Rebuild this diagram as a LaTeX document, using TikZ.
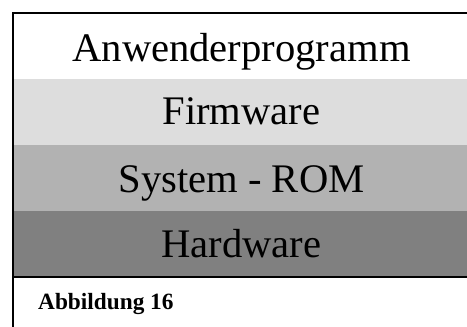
\documentclass[tikz,border=0pt]{standalone}
\usepackage{fontspec}
\setmainfont{Liberation Serif}
\definecolor{bandA}{RGB}{255,255,255}
\definecolor{bandB}{RGB}{221,221,221}
\definecolor{bandC}{RGB}{178,178,178}
\definecolor{bandD}{RGB}{128,128,128}
\tikzset{
  layertext/.style={anchor=base, inner sep=0pt, font=\fontsize{40.6}{48}\selectfont},
  captext/.style={anchor=base west, inner sep=0pt, font=\fontsize{23.3}{28}\selectfont\bfseries},
  frame/.style={line width=2pt, black}
}
\begin{document}
\begin{tikzpicture}[x=1pt,y=1pt]
\useasboundingbox (0,0) rectangle (467,327);
\clip (0,0) rectangle (467,327);
% bands (y measured from top: 13-79, 79-145, 145-211, 211-277)
\fill[bandA] (13,314) rectangle (475,248);
\fill[bandB] (13,248) rectangle (475,182);
\fill[bandC] (13,182) rectangle (475,116);
\fill[bandD] (13,116) rectangle (475,50);
% frame lines
\draw[frame] (13,0) -- (13,313.5);
\draw[frame] (12,313.5) -- (475,313.5);
\draw[frame] (13,50.3) -- (475,50.3);
% texts
\node[layertext] (anw) at (241.5,265.3) {Anwenderprogramm};
\node[layertext] (fw) at (241.5,202) {Firmware};
\node[layertext] (rom) at (241.5,134) {System - ROM};
\node[layertext] (hw) at (241.5,69) {Hardware};
\node[captext] (cap) at (38,17) {Abbildung 16};
\end{tikzpicture}
\end{document}
